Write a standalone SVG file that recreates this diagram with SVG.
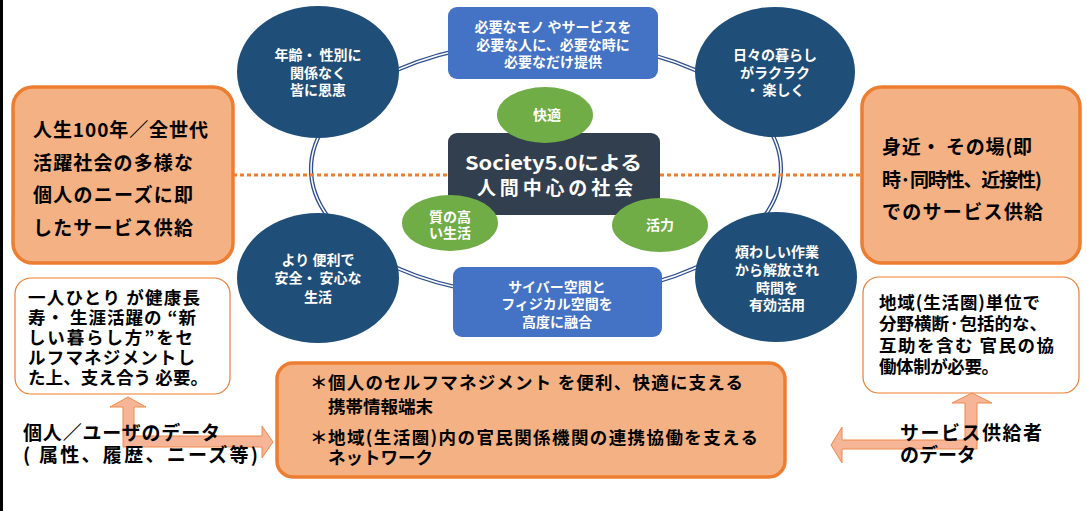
<svg xmlns="http://www.w3.org/2000/svg" width="1087" height="511" viewBox="0 0 1087 511">
<style>
text{font-family:"Noto Sans CJK JP","Noto Sans",sans-serif;font-weight:bold}
.w{fill:#fff}
.k{fill:#000}
.c14{font-size:14px;text-anchor:middle}
.big{font-size:19px}
.mid{font-size:17.5px}
.dark{fill:#1f4e79}
.blue{fill:#4472c4}
.green{fill:#70ad47}
.obox{fill:#f4b183;stroke:#ed7d31;stroke-width:3.5}
.wbox{fill:#fff;stroke:#ed7d31;stroke-width:1.2}
.arrow{fill:#f5b596;stroke:#ee8a4c;stroke-width:1}
</style>
<rect x="0" y="0" width="1087" height="511" fill="#fff"/>
<rect x="0" y="0" width="3" height="511" fill="#000"/>
<g id="connectors">
<ellipse cx="546" cy="169" rx="235" ry="128" fill="none" stroke="#2f4e8f" stroke-width="4.2"/>
<ellipse cx="546" cy="169" rx="235" ry="128" fill="none" stroke="#fff" stroke-width="1.5"/>
<line x1="233" y1="175" x2="862" y2="175" stroke="#ed7d31" stroke-width="3" stroke-dasharray="4 3"/>
</g>
<g id="circle-tl">
<ellipse class="dark" cx="318" cy="72" rx="81" ry="66"/>
<text class="w c14"><tspan x="318" y="60">年齢・ 性別に</tspan><tspan x="318" y="78">関係なく</tspan><tspan x="318" y="95">皆に恩恵</tspan></text>
</g>
<g id="circle-tr">
<ellipse class="dark" cx="775" cy="72" rx="80" ry="65"/>
<text class="w c14"><tspan x="775" y="60">日々の暮らし</tspan><tspan x="775" y="78">がラクラク</tspan><tspan x="775" y="95">・ 楽しく</tspan></text>
</g>
<g id="circle-bl">
<ellipse class="dark" cx="318" cy="278" rx="81" ry="65"/>
<text class="w c14"><tspan x="318" y="265">より 便利で</tspan><tspan x="318" y="283">安全・ 安心な</tspan><tspan x="318" y="302">生活</tspan></text>
</g>
<g id="circle-br">
<ellipse class="dark" cx="776" cy="277" rx="81" ry="65"/>
<text class="w c14"><tspan x="777" y="257">煩わしい作業</tspan><tspan x="777" y="275">から解放され</tspan><tspan x="777" y="293">時間を</tspan><tspan x="777" y="310">有効活用</tspan></text>
</g>
<g id="box-top">
<rect class="blue" x="448" y="7" width="210" height="72" rx="9"/>
<text class="w c14"><tspan x="553" y="32">必要なモノ やサービスを</tspan><tspan x="553" y="50">必要な人に、必要な時に</tspan><tspan x="553" y="67">必要なだけ提供</tspan></text>
</g>
<g id="box-bottom">
<rect class="blue" x="453" y="267" width="209" height="70" rx="9"/>
<text class="w c14"><tspan x="557" y="292">サイバー空間と</tspan><tspan x="557" y="309">フィジカル空間を</tspan><tspan x="557" y="327">高度に融合</tspan></text>
</g>
<g id="center">
<rect x="448" y="133" width="212" height="82" rx="9" fill="#323f4f"/>
<text class="w" font-size="19"><tspan x="465" y="170" textLength="177" lengthAdjust="spacingAndGlyphs">Society5.0による</tspan><tspan x="477" y="195" textLength="156">人間中心の社会</tspan></text>
</g>
<g id="green-top">
<ellipse class="green" cx="545" cy="115" rx="48" ry="28"/>
<text class="w c14" x="547" y="120">快適</text>
</g>
<g id="green-left">
<ellipse class="green" cx="450" cy="223" rx="48" ry="28"/>
<text class="w c14"><tspan x="450" y="222">質の高</tspan><tspan x="450" y="238">い生活</tspan></text>
</g>
<g id="green-right">
<ellipse class="green" cx="660" cy="225" rx="48" ry="27"/>
<text class="w c14" x="660" y="230">活力</text>
</g>
<g id="orange-left">
<rect class="obox" x="13" y="87" width="220" height="176" rx="20"/>
<text class="k big"><tspan x="33" y="137" textLength="175">人生100年／全世代</tspan><tspan x="33" y="170" textLength="160">活躍社会の多様な</tspan><tspan x="33" y="202" textLength="160">個人のニーズに即</tspan><tspan x="33" y="235" textLength="160">したサービス供給</tspan></text>
</g>
<g id="orange-right">
<rect class="obox" x="862" y="87" width="218" height="176" rx="20"/>
<text class="k big"><tspan x="882" y="154" textLength="150">身近・ その場(即</tspan><tspan x="882" y="187" textLength="160">時·同時性、近接性)</tspan><tspan x="882" y="219" textLength="161">でのサービス供給</tspan></text>
</g>
<g id="white-left">
<rect class="wbox" x="15" y="278" width="215" height="116" rx="16"/>
<text class="k mid"><tspan x="28" y="304" textLength="172">一人ひとり が健康長</tspan><tspan x="28" y="324" textLength="168">寿・ 生涯活躍の “新</tspan><tspan x="28" y="344" textLength="165">しい暮らし方”をセ</tspan><tspan x="28" y="364" textLength="167">ルフマネジメントし</tspan><tspan x="28" y="384" textLength="180">た上、支え合う 必要。</tspan></text>
</g>
<g id="white-right">
<rect class="wbox" x="863" y="277" width="216" height="116" rx="16"/>
<text class="k mid"><tspan x="879" y="309" textLength="161">地域(生活圏)単位で</tspan><tspan x="879" y="330" textLength="168">分野横断·包括的な、</tspan><tspan x="879" y="352" textLength="175">互助を含む 官民の協</tspan><tspan x="879" y="373" textLength="120">働体制が必要。</tspan></text>
</g>
<g id="box-platform">
<rect class="obox" x="277" y="363" width="508" height="114" rx="16"/>
<text class="k mid"><tspan x="310" y="389">＊</tspan><tspan x="328" y="389" textLength="415">個人のセルフマネジメント を便利、快適に支える</tspan><tspan x="328" y="413">携帯情報端末</tspan><tspan x="310" y="444">＊</tspan><tspan x="328" y="444" textLength="430">地域(生活圏)内の官民関係機関の連携協働を支える</tspan><tspan x="328" y="464">ネットワーク</tspan></text>
</g>
<g id="data-user">
<polygon class="arrow" points="128,397 146,407 134,407 134,436 262,436 262,426 273,442 262,458 262,447 123,447 123,407 110,407"/>
<text class="k big"><tspan x="23" y="440" textLength="197">個人／ユーザのデータ</tspan><tspan x="23" y="462" textLength="235">( 属性、履歴、ニーズ等)</tspan></text>
</g>
<g id="data-provider">
<polygon class="arrow" points="972,393 992,403 977,403 977,449 842,449 842,463 831,445 842,427 842,440 965,440 965,403 952,403"/>
<text class="k big"><tspan x="900" y="440" textLength="142">サービス供給者</tspan><tspan x="900" y="462">のデータ</tspan></text>
</g>
</svg>
